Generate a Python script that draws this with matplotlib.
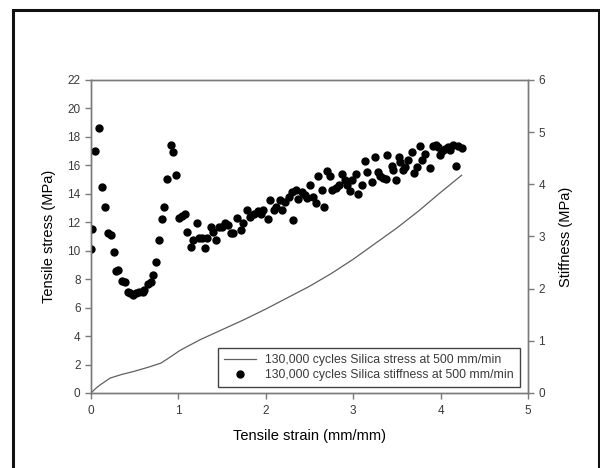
# Tensile stress and stiffness vs. strain, 130,000 cycles silica sample at 500 mm/min
import numpy as np
import matplotlib; matplotlib.use("Agg")
import matplotlib.pyplot as plt
from matplotlib.patches import Rectangle

plt.rcParams['font.family'] = ['Liberation Sans', 'DejaVu Sans']

# stress curve (left axis)
strain_line = [0, 0.05, 0.1, 0.22, 0.35, 0.48, 0.65, 0.8, 0.9, 1.02, 1.25, 1.5,
               1.75, 2.0, 2.25, 2.5, 2.75, 3.0, 3.25, 3.5, 3.75, 4.0, 4.24]
stress_line = [0, 0.3, 0.55, 1.05, 1.3, 1.5, 1.8, 2.1, 2.5, 3.0, 3.75, 4.45,
               5.15, 5.9, 6.7, 7.5, 8.4, 9.4, 10.5, 11.6, 12.8, 14.1, 15.3]

# stiffness points (right axis)
strain_pts = [0.00, 0.01, 0.05, 0.09, 0.12, 0.16, 0.19, 0.23, 0.26, 0.29, 0.31, 0.35,
              0.39, 0.42, 0.45, 0.48, 0.51, 0.55, 0.59, 0.61, 0.65, 0.69, 0.71, 0.74,
              0.78, 0.81, 0.84, 0.87, 0.91, 0.94, 0.97, 1.01, 1.04, 1.07, 1.10, 1.14,
              1.17, 1.21, 1.24, 1.27, 1.30, 1.33, 1.37, 1.40, 1.43, 1.46, 1.50, 1.53,
              1.57, 1.60, 1.62, 1.67, 1.72, 1.74, 1.78, 1.82, 1.86, 1.91, 1.95, 1.97,
              2.02, 2.05, 2.09, 2.12, 2.16, 2.18, 2.22, 2.26, 2.30, 2.31, 2.35, 2.37,
              2.41, 2.45, 2.47, 2.51, 2.54, 2.57, 2.60, 2.64, 2.67, 2.70, 2.73, 2.76,
              2.80, 2.84, 2.87, 2.91, 2.93, 2.96, 2.99, 3.03, 3.06, 3.10, 3.13, 3.16,
              3.21, 3.25, 3.28, 3.31, 3.34, 3.38, 3.39, 3.44, 3.46, 3.49, 3.52, 3.54,
              3.57, 3.59, 3.63, 3.67, 3.69, 3.73, 3.76, 3.79, 3.82, 3.88, 3.91, 3.95,
              3.97, 3.99, 4.02, 4.05, 4.09, 4.11, 4.14, 4.18, 4.20, 4.24]
stiffness_pts = [2.76, 3.14, 4.64, 5.07, 3.94, 3.57, 3.07, 3.03, 2.71, 2.34, 2.36, 2.15,
                 2.13, 1.94, 1.91, 1.88, 1.91, 1.94, 1.93, 1.97, 2.09, 2.13, 2.26, 2.51,
                 2.93, 3.33, 3.57, 4.10, 4.75, 4.61, 4.18, 3.35, 3.39, 3.43, 3.08, 2.79,
                 2.93, 3.25, 2.97, 2.98, 2.77, 2.98, 3.19, 3.09, 2.93, 3.19, 3.19, 3.25,
                 3.22, 3.06, 3.06, 3.35, 3.12, 3.26, 3.51, 3.38, 3.44, 3.49, 3.44, 3.51,
                 3.33, 3.70, 3.51, 3.57, 3.70, 3.51, 3.67, 3.76, 3.86, 3.32, 3.89, 3.71,
                 3.86, 3.80, 3.73, 3.99, 3.76, 3.64, 4.16, 3.89, 3.56, 4.26, 4.16, 3.89,
                 3.92, 3.99, 4.20, 4.08, 3.99, 3.88, 4.08, 4.20, 3.81, 3.99, 4.45, 4.24,
                 4.05, 4.53, 4.24, 4.15, 4.12, 4.10, 4.56, 4.35, 4.27, 4.08, 4.53, 4.43,
                 4.27, 4.34, 4.47, 4.61, 4.21, 4.33, 4.73, 4.47, 4.58, 4.31, 4.73, 4.75,
                 4.71, 4.56, 4.63, 4.67, 4.71, 4.66, 4.75, 4.35, 4.73, 4.69]

GRIS = "#7a7a7a"
TXT = "#3a3a3a"

fig = plt.figure(figsize=(6, 4.68), dpi=100)
ax = fig.add_axes([0.1517, 0.1603, 0.7283, 0.6688])
ax2 = ax.twinx()

l1, = ax.plot(strain_line, stress_line, color="#606060", lw=0.9,
              label="130,000 cycles Silica stress at 500 mm/min")
l2, = ax2.plot(strain_pts, stiffness_pts, "o", color="black", ms=5.0, mec="black",
               label="130,000 cycles Silica stiffness at 500 mm/min")

ax.set_xlim(0, 5)
ax.set_ylim(0, 22)
ax2.set_ylim(0, 6)
ax.set_xticks(range(0, 6))
ax.set_yticks(range(0, 23, 2))
ax2.set_yticks(range(0, 7))

for a in (ax, ax2):
    for sp in a.spines.values():
        sp.set_edgecolor(GRIS); sp.set_linewidth(1.0)
    a.tick_params(colors=GRIS, labelcolor=TXT, labelsize=8.5, length=4, width=1.0, direction="out")
ax.tick_params(axis="x", pad=5)

ax.set_xlabel("Tensile strain (mm/mm)", fontsize=10.5, color="black", labelpad=8)
ax.set_ylabel("Tensile stress (MPa)", fontsize=10.5, color="black", labelpad=8)
ax2.set_ylabel("Stiffness (MPa)", fontsize=10.5, color="black", labelpad=10)

leg = ax2.legend(handles=[l1, l2], loc="lower right", bbox_to_anchor=(0.982, 0.019),
                 borderaxespad=0, fontsize=8.8, frameon=True, fancybox=False, framealpha=1,
                 handlelength=2.6, borderpad=0.5, labelspacing=0.25)
leg.get_frame().set_edgecolor("#444444")
leg.get_frame().set_linewidth(1.0)
for t in leg.get_texts():
    t.set_color(TXT)

# marco negro alrededor de la figura
fig.add_artist(Rectangle((13 / 600, -0.05), (599 - 13) / 600, 1.05 - 10 / 468,
                         transform=fig.transFigure, fill=False, edgecolor="#111111",
                         lw=2.2, clip_on=False))

fig.savefig("out.png", dpi=100, facecolor="white")
